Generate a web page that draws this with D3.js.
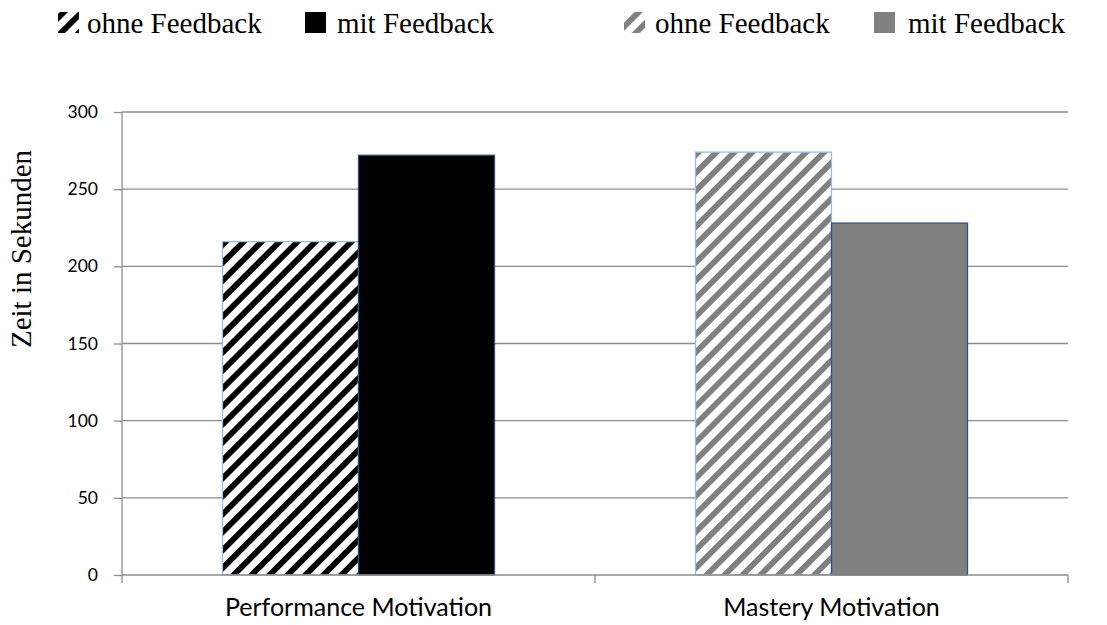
<!DOCTYPE html>
<html><head><meta charset="utf-8">
<script src="https://cdn.jsdelivr.net/npm/d3@7"></script>
<style>body{margin:0;background:#fff}</style>
</head><body>
<svg id="c" width="1107" height="625"></svg>
<script>
const categories = ["Performance Motivation", "Mastery Motivation"];
const seriesNames = ["ohne Feedback", "mit Feedback"];
const ohneValues = [216, 274];
const mitValues = [272, 228];
const yTicks = [0, 50, 100, 150, 200, 250, 300];
const yLabel = "Zeit in Sekunden";

const svg = d3.select("#c");
const m = {l:122, r:1068, t:112, b:575};
const x0 = d3.scaleBand().domain(categories).range([m.l, m.r]).paddingInner(0).paddingOuter(0);
const x1 = d3.scaleBand().domain(seriesNames).range([0, x0.bandwidth()]).paddingInner(0).paddingOuter(0.739);
const y = d3.scaleLinear().domain([0, 300]).range([m.b, m.t]);

const defs = svg.append("defs");
function stripe(id, color){
  const p = defs.append("pattern").attr("id", id).attr("patternUnits","userSpaceOnUse")
    .attr("width", 12.7).attr("height", 12.7).attr("patternTransform","rotate(45)");
  p.append("rect").attr("width",12.7).attr("height",12.7).attr("fill","#fff");
  p.append("rect").attr("x",0).attr("width",5.8).attr("height",12.7).attr("fill",color);
}
stripe("sBlack", "#000");
stripe("sGray", "#808080");

const fills = [["url(#sBlack)", "#000"], ["url(#sGray)", "#808080"]];
const strokes = ["#9dbbe3", "#2f4f86"];
const tickFont = "Lato, 'Open Sans', sans-serif";

// gridlines
svg.append("g").selectAll("line").data(yTicks.filter(d=>d>0)).join("line")
  .attr("x1", m.l).attr("x2", m.r).attr("y1", d=>y(d)).attr("y2", d=>y(d))
  .attr("stroke", "#8c8c8c").attr("stroke-width", 1.3);

// y axis
const yAxis = d3.axisLeft(y).tickValues(yTicks).tickSize(8).tickPadding(16);
const gy = svg.append("g").attr("transform", `translate(${m.l},0)`).call(yAxis);
gy.selectAll("line,path").attr("stroke", "#8c8c8c").attr("stroke-width", 1.3);
gy.select(".domain").attr("d", `M0,${m.t}V${m.b}`);
gy.selectAll("text").attr("font-family", tickFont).attr("font-size", 17.5).attr("fill","#000");

// bars
const groups = svg.append("g").selectAll("g").data(categories).join("g")
  .attr("transform", d=>`translate(${x0(d)},0)`);
groups.each(function(cat, ci){
  const vals = [ohneValues[ci], mitValues[ci]];
  d3.select(this).selectAll("rect").data(seriesNames).join("rect")
    .attr("x", s=>x1(s)).attr("width", x1.bandwidth())
    .attr("y", (s,si)=>y(vals[si])).attr("height", (s,si)=>y(0)-y(vals[si]))
    .attr("fill", (s,si)=> si===0 ? fills[ci][0] : fills[ci][1])
    .attr("stroke", (s,si)=>strokes[si]).attr("stroke-width", 1.3);
});

// x axis
const xAxisLine = svg.append("g");
xAxisLine.append("line").attr("x1", m.l).attr("x2", m.r).attr("y1", m.b).attr("y2", m.b)
  .attr("stroke","#8c8c8c").attr("stroke-width",1.3);
const xt = [m.l, ...categories.map(c=>x0(c)+x0.bandwidth())];
xAxisLine.selectAll("line.t").data(xt).join("line").attr("class","t")
  .attr("x1", d=>d).attr("x2", d=>d).attr("y1", m.b).attr("y2", m.b+8)
  .attr("stroke","#8c8c8c").attr("stroke-width",1.3);
svg.append("g").selectAll("text").data(categories).join("text")
  .attr("x", d=>x0(d)+x0.bandwidth()/2).attr("y", 616)
  .attr("text-anchor","middle").attr("font-family", tickFont).attr("font-size",25)
  .text(d=>d);

// y label
svg.append("text").attr("transform","translate(31,249) rotate(-90)")
  .attr("text-anchor","middle").attr("font-family","'Liberation Serif', serif").attr("font-size",29)
  .text(yLabel);

// legend
const legendItems = [
  {x:58, tx:87, fill:"url(#sBlack)", label:seriesNames[0]},
  {x:305, tx:337, fill:"#000", label:seriesNames[1]},
  {x:624, tx:655, fill:"url(#sGray)", label:seriesNames[0]},
  {x:874, tx:908, fill:"#808080", label:seriesNames[1]}
];
const lg = svg.append("g").selectAll("g").data(legendItems).join("g");
lg.append("rect").attr("x", d=>d.x).attr("y", 12).attr("width", 21).attr("height", 21).attr("fill", d=>d.fill);
lg.append("text").attr("x", d=>d.tx).attr("y", 33).attr("font-family","'Liberation Serif', serif")
  .attr("font-size", 29).text(d=>d.label);
</script>
</body></html>
